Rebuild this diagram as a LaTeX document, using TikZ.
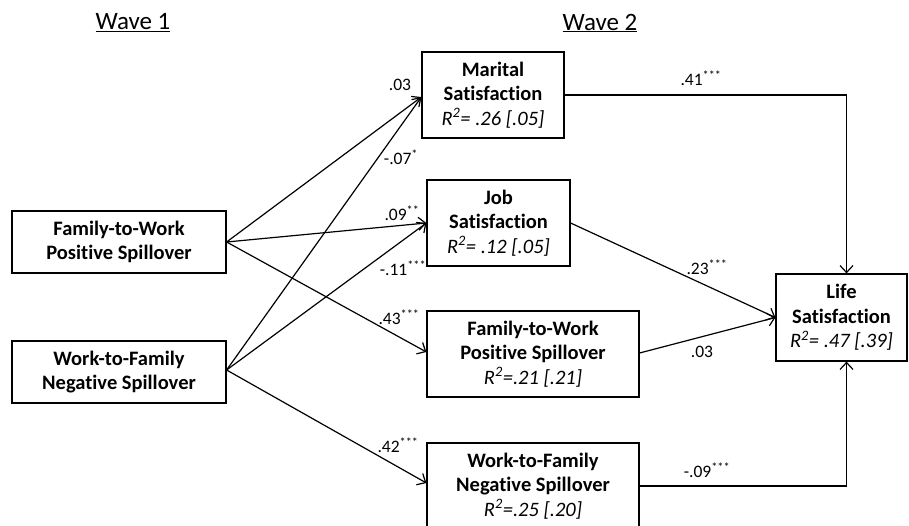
\documentclass[tikz,border=0pt]{standalone}
\usepackage{fontspec}
\setmainfont{Carlito}[Ligatures=CommonOff]
\usetikzlibrary{arrows.meta}
\begin{document}
\begin{tikzpicture}[x=1pt,y=-1pt,
 box/.style={draw, line width=1.2pt, align=center, inner sep=0pt, font=\fontsize{20.5}{24.5}\selectfont\bfseries},
 arr/.style={line width=1.2pt, -{Straight Barb[length=7pt,width=13pt,line width=1.2pt]}},
 lab/.style={font=\fontsize{17.5}{20}\selectfont, inner sep=0pt},
 wave/.style={font=\fontsize{25}{30}\selectfont, inner sep=0pt}]
\useasboundingbox (0,0) rectangle (909,526);
\newcommand{\rsq}[1]{{\mdseries\itshape R\textsuperscript{2}=#1}}
% titles
\node[wave] (w1) at (133,23) {\underline{Wave 1}};
\node[wave] (w2) at (600,23) {\underline{Wave 2}};
% wave 1 boxes
\node[box, minimum width=214pt, minimum height=62pt] (A) at (119,242) {Family-to-Work\\Positive Spillover};
\node[box, minimum width=214pt, minimum height=62pt] (B) at (119,372) {Work-to-Family\\Negative Spillover};
% wave 2 boxes
\node[box, minimum width=142pt, minimum height=86pt] (M) at (493,95) {Marital\\Satisfaction\\\rsq{ .26 [.05]}};
\node[box, minimum width=143pt, minimum height=86pt] (J) at (498.5,223) {Job\\Satisfaction\\\rsq{ .12 [.05]}};
\node[box, minimum width=212pt, minimum height=86pt] (F) at (533,354) {Family-to-Work\\Positive Spillover\\\rsq{.21 [.21]}};
\node[box, minimum width=212pt, minimum height=86pt] (W) at (533,486) {Work-to-Family\\Negative Spillover\\\rsq{.25 [.20]}};
\node[box, minimum width=131pt, minimum height=87pt] (L) at (841.5,317.5) {Life\\Satisfaction\\\rsq{ .47 [.39]}};
% arrows from wave 1
\draw[arr] (A.east) -- ([yshift=-2pt]M.west);
\draw[arr] (A.east) -- (J.west);
\draw[arr] (A.east) -- ([yshift=2pt]F.west);
\draw[arr] ([yshift=2pt]B.east) -- ([yshift=-2pt]M.west);
\draw[arr] ([yshift=2pt]B.east) -- (J.west);
\draw[arr] ([yshift=2pt]B.east) -- ([yshift=3pt]W.west);
% arrows to life satisfaction
\draw[arr] (M.east) -| ([xshift=5pt]L.north);
\draw[arr] (J.east) -- (L.west);
\draw[arr] ([yshift=1pt]F.east) -- (L.west);
\draw[arr] (W.east) -| ([xshift=5pt]L.south);
% labels
\node[lab] (l1) at (400,85) {.03};
\node[lab] (l2) at (401,157) {-.07\textsuperscript{*}};
\node[lab] (l3) at (402,213) {.09\textsuperscript{**}};
\node[lab] (l4) at (403,268) {-.11\textsuperscript{***}};
\node[lab] (l5) at (399,317) {.43\textsuperscript{***}};
\node[lab] (l6) at (398,445) {.42\textsuperscript{***}};
\node[lab] (l7) at (701,78) {.41\textsuperscript{***}};
\node[lab] (l8) at (707,267) {.23\textsuperscript{***}};
\node[lab] (l9) at (702,352) {.03};
\node[lab] (l10) at (707,470) {-.09\textsuperscript{***}};
\end{tikzpicture}
\end{document}
